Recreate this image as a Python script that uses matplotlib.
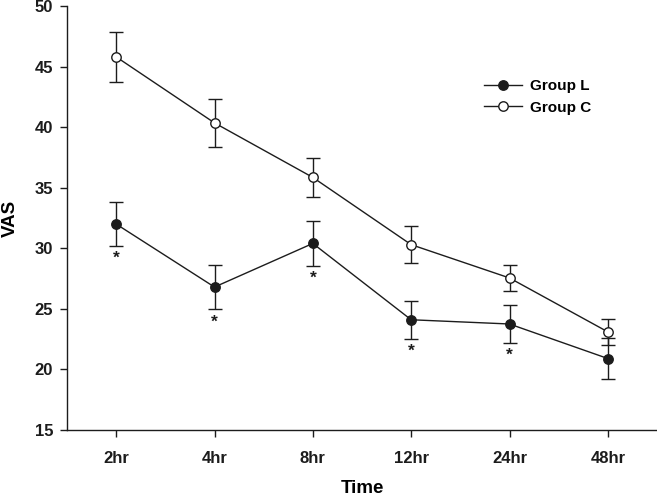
import matplotlib.pyplot as plt
from matplotlib.lines import Line2D
import numpy as np

plt.rcParams['font.family'] = ['Liberation Sans', 'DejaVu Sans']
plt.rcParams['font.weight'] = 'bold'

times = ["2hr", "4hr", "8hr", "12hr", "24hr", "48hr"]

group_l = [32.0, 26.8, 30.4, 24.1, 23.75, 20.9]
group_l_err = [1.8, 1.85, 1.85, 1.55, 1.55, 1.7]

group_c = [45.8, 40.35, 35.85, 30.3, 27.55, 23.1]
group_c_err = [2.05, 1.95, 1.6, 1.5, 1.05, 1.05]

# which time points of group L are significant
signif = [True, True, True, True, True, False]

x = np.arange(len(times))
col = "#1c1c1c"

fig = plt.figure(figsize=(6.57, 4.97), dpi=100)
ax = fig.add_axes([67/657, 67/497, 590/657, 424/497])

ax.errorbar(x, group_l, yerr=group_l_err, color=col, lw=1, marker='o',
            ms=6.8, mfc=col, mec=col, capsize=5, elinewidth=1, capthick=1,
            zorder=3)
ax.errorbar(x, group_c, yerr=group_c_err, color=col, lw=1, marker='o',
            ms=6.8, mfc='white', mec=col, mew=1, capsize=5, elinewidth=1,
            capthick=1, zorder=3)

for i in range(len(times)):
    if signif[i]:
        ax.annotate("*", (x[i], group_l[i] - group_l_err[i]), xytext=(0, -9),
                    textcoords='offset points', ha='center', va='center',
                    fontsize=12.5, fontweight='bold', color=col)

ax.set_xlim(-0.5, 5.5)
ax.set_ylim(15, 50)
ax.set_xticks(x)
ax.set_xticklabels(times)
ax.set_yticks(np.arange(15, 51, 5))

ax.spines['top'].set_visible(False)
ax.spines['right'].set_visible(False)
for s in ['left', 'bottom']:
    ax.spines[s].set_linewidth(1)
    ax.spines[s].set_color(col)
ax.tick_params(axis='both', direction='out', length=5, width=1, colors=col,
               labelsize=12, pad=5)
ax.tick_params(axis='x', pad=10)

ax.set_xlabel("Time", fontsize=13.5, fontweight='bold', labelpad=10)
ax.set_ylabel("VAS", fontsize=13.5, fontweight='bold', labelpad=11)

handles = [Line2D([], [], color=col, lw=1, marker='o', ms=6.8, mfc=col, mec=col),
           Line2D([], [], color=col, lw=1, marker='o', ms=6.8, mfc='white', mec=col)]
ax.legend(handles, ["Group L", "Group C"], loc='upper left',
          bbox_to_anchor=(0.683, 0.86), frameon=False, fontsize=11,
          handlelength=2.5, handletextpad=0.5, labelspacing=0.5)

fig.savefig("out.png", dpi=100)
